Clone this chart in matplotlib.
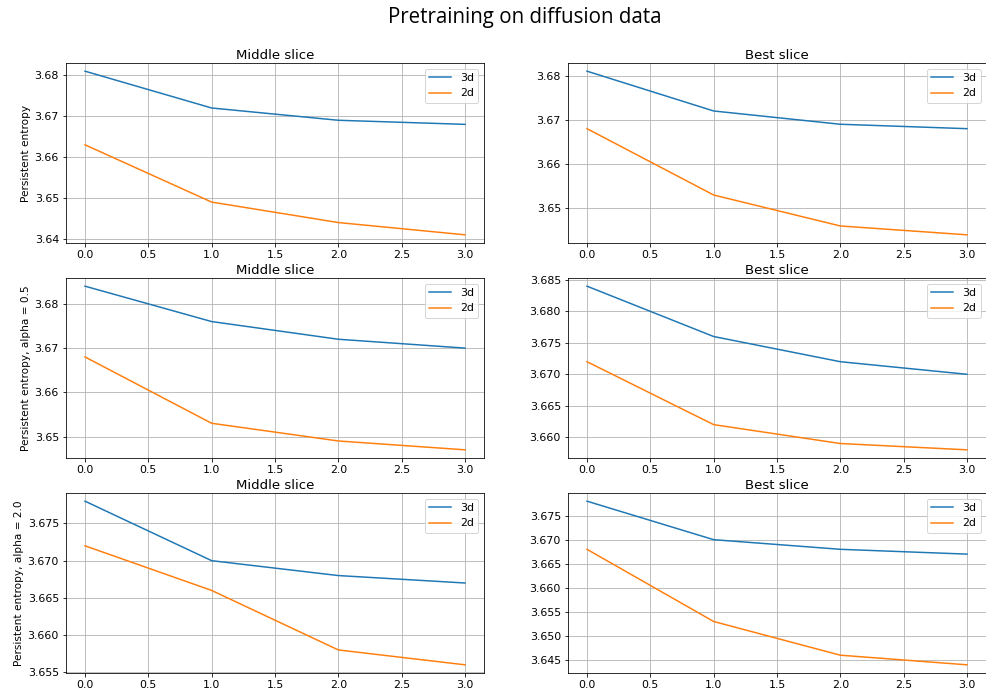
import matplotlib
matplotlib.use("Agg")
import matplotlib.pyplot as plt
from matplotlib.ticker import MultipleLocator

plt.rcParams["font.size"] = 11

# Pretraining steps on the x axis
steps = [0, 1, 2, 3]

# Persistent entropy, plain
mid_3d = [3.681, 3.672, 3.669, 3.668]
mid_2d = [3.663, 3.649, 3.644, 3.641]
best_3d = [3.681, 3.672, 3.669, 3.668]
best_2d = [3.668, 3.653, 3.646, 3.644]

# alpha = 0.5
mid_3d_a05 = [3.684, 3.676, 3.672, 3.670]
mid_2d_a05 = [3.668, 3.653, 3.649, 3.647]
best_3d_a05 = [3.684, 3.676, 3.672, 3.670]
best_2d_a05 = [3.672, 3.662, 3.659, 3.658]

# alpha = 2.0
mid_3d_a2 = [3.678, 3.670, 3.668, 3.667]
mid_2d_a2 = [3.672, 3.666, 3.658, 3.656]
best_3d_a2 = [3.678, 3.670, 3.668, 3.667]
best_2d_a2 = [3.668, 3.653, 3.646, 3.644]

row_labels = ["Persistent entropy",
              "Persistent entropy, alpha = 0.5",
              "Persistent entropy, alpha = 2.0"]
col_titles = ["Middle slice", "Best slice"]

rows = [
    [(mid_3d, mid_2d), (best_3d, best_2d)],
    [(mid_3d_a05, mid_2d_a05), (best_3d_a05, best_2d_a05)],
    [(mid_3d_a2, mid_2d_a2), (best_3d_a2, best_2d_a2)],
]

# y tick spacing per panel
ytick_step = [[0.01, 0.01], [0.01, 0.005], [0.005, 0.005]]

fig = plt.figure(figsize=(986 / 72, 694 / 72), dpi=72)

lefts = [66 / 986, 568 / 986]
width = 418 / 986
bottoms = [1 - 243 / 694, 1 - 458 / 694, 1 - 673 / 694]
height = 180 / 694

for r, row in enumerate(rows):
    for c, (y3, y2) in enumerate(row):
        ax = fig.add_axes([lefts[c], bottoms[r], width, height])
        ax.plot(steps, y3, label="3d")
        ax.plot(steps, y2, label="2d")
        ax.set_title(col_titles[c], pad=4)
        ax.yaxis.set_major_locator(MultipleLocator(ytick_step[r][c]))
        ax.grid(True)
        ax.legend(loc="upper right")
        if c == 0:
            ax.set_ylabel(row_labels[r], fontsize=10.5)

fig.suptitle("Pretraining on diffusion data", x=525 / 986, y=0.99,
             fontsize=20.5, family=["Open Sans", "DejaVu Sans"])

fig.savefig("out.png", dpi=72)
